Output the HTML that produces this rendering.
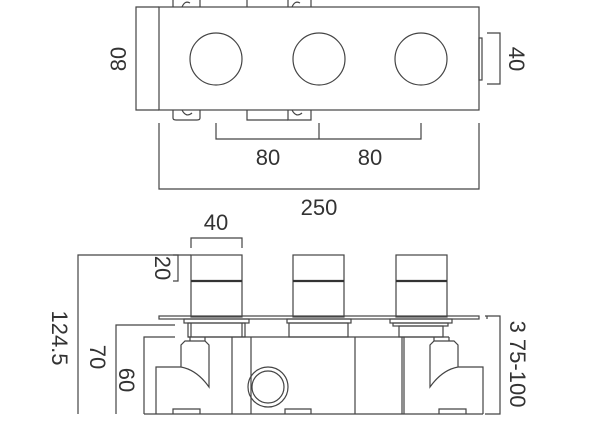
<!DOCTYPE html>
<html><head><style>
html,body{margin:0;padding:0;background:#fff;width:600px;height:441px;overflow:hidden}
svg{display:block}
text{font-family:"Liberation Sans",sans-serif;font-size:22px;fill:#333}
</style></head><body>
<svg width="600" height="441" viewBox="0 0 600 441" xmlns="http://www.w3.org/2000/svg">
<g fill="none" stroke="#444" stroke-width="1.2">
<!-- TOP VIEW -->
<rect x="159" y="7" width="320" height="103"/>
<circle cx="216" cy="59" r="26"/>
<circle cx="319" cy="59" r="26"/>
<circle cx="421" cy="59" r="26"/>
<rect x="479" y="38" width="3" height="42"/>
<!-- brackets -->
<path d="M173,7 V0 M200,7 V0 M182,7 Q185,0 190,3"/>
<path d="M173,110 V118 Q173,120 176,120 H197 Q200,120 200,118 V110 M182,110 Q186,118 192,113"/>
<path d="M288,7 V0 M311,7 V0 M292,7 Q295,0 300,3"/>
<path d="M288,110 V120 H311 V110 M292,110 Q296,118 302,113"/>
<path d="M247,0 V7 M247,110 V120 H288"/>
<!-- dims top -->
<path d="M159,7 H136 V110 H159"/>
<path d="M487,33 H500 V84 H487"/>
<path d="M216,123 V139 H421 V123 M319,123 V139"/>
<path d="M159,123 V189 H479 V123"/>
<!-- SIDE VIEW knobs -->
<rect x="191" y="255" width="51" height="62"/>
<rect x="293" y="255" width="51" height="62"/>
<rect x="396" y="255" width="51" height="62"/>
</g>
<g stroke="#333" stroke-width="2.2">
<line x1="191" y1="281" x2="242" y2="281"/>
<line x1="293" y1="281" x2="344" y2="281"/>
<line x1="396" y1="281" x2="447" y2="281"/>
</g>
<g fill="none" stroke="#444" stroke-width="1.2">
<rect x="159" y="316" width="320" height="3"/>
<rect x="184" y="319" width="65" height="4"/>
<rect x="188" y="323" width="57" height="14"/>
<path d="M191,323 V337 M242,323 V337"/>
<rect x="287" y="319" width="64" height="4"/>
<rect x="289" y="323" width="59" height="14"/>
<rect x="390" y="319" width="62" height="4"/>
<rect x="393" y="323" width="55" height="3"/>
<rect x="399" y="326" width="44" height="11"/>
<!-- body -->
<path d="M188,337 H449"/>
<path d="M232,337 V414 M251,337 V414 M355,337 V414 M402,337 V414 M404,337 V414"/>
<path d="M144,414 H483"/>
<circle cx="268" cy="387" r="20"/>
<circle cx="268" cy="387" r="16"/>
<path d="M285,414 V409 H311 V414"/>
<!-- left valve -->
<g id="v">
<path d="M156,414 V367 H181 V345 L185,341 H205 L209,345 V387 Q197,370 181,367"/>
<path d="M190,341 V337 M205,341 V337"/>
<path d="M173,414 V409 H200 V414"/>
</g>
<g transform="translate(639,0) scale(-1,1)">
<path d="M156,414 V367 H181 V345 L185,341 H205 L209,345 V387 Q197,370 181,367"/>
<path d="M190,341 V337 M205,341 V337"/>
<path d="M173,414 V409 H200 V414"/>
</g>
<!-- side dims -->
<path d="M191,248 V238 H242 V248"/>
<path d="M78,414 V255 H191"/>
<path d="M173,255 H178 V281 H173"/>
<path d="M175,325 H116 V414"/>
<path d="M175,337 H144 V414"/>
<path d="M485,316 H500 V414 H485 M487,316 V319"/>
</g>
<!-- labels -->
<text transform="translate(118,59) rotate(-90)" text-anchor="middle" dy="8">80</text>
<text transform="translate(517,59) rotate(90)" text-anchor="middle" dy="8">40</text>
<text x="268" y="165" text-anchor="middle">80</text>
<text x="370" y="165" text-anchor="middle">80</text>
<text x="319" y="215" text-anchor="middle">250</text>
<text x="216" y="230" text-anchor="middle">40</text>
<text transform="translate(163,268) rotate(90)" text-anchor="middle" dy="8">20</text>
<text transform="translate(60,338) rotate(90)" text-anchor="middle" dy="8">124.5</text>
<text transform="translate(98,357) rotate(90)" text-anchor="middle" dy="8">70</text>
<text transform="translate(127,380) rotate(90)" text-anchor="middle" dy="8">60</text>
<text transform="translate(518,364) rotate(90)" text-anchor="middle" dy="8">3 75-100</text>
</svg>
</body></html>
